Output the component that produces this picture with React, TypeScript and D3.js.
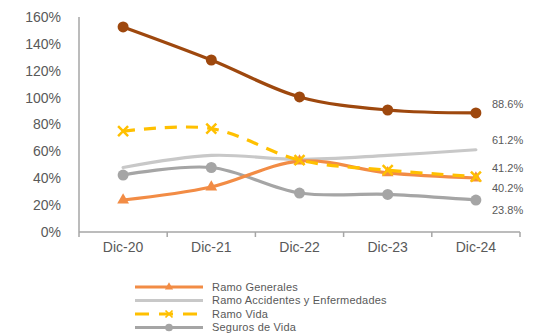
import React, { useEffect, useRef } from 'react';
import * as d3 from 'd3';

const categories = ['Dic-20', 'Dic-21', 'Dic-22', 'Dic-23', 'Dic-24'];
const yTicks = [0, 20, 40, 60, 80, 100, 120, 140, 160];

const ramoGenerales = [23.8, 33.5, 52.8, 44.0, 40.2];
const ramoAccidentes = [48.0, 57.0, 54.0, 57.0, 61.2];
const ramoVida = [75.0, 77.0, 53.5, 46.0, 41.2];
const segurosVida = [42.4, 48.0, 29.0, 28.0, 23.8];
const totalSeries = [152.6, 128.0, 100.5, 90.8, 88.6];

const series = [
  { name: 'Total', values: totalSeries, color: '#9E480E', marker: 'circle', dash: null },
  { name: 'Ramo Accidentes y Enfermedades', values: ramoAccidentes, color: '#C8C8C8', marker: 'none', dash: null },
  { name: 'Seguros de Vida', values: segurosVida, color: '#A5A5A5', marker: 'circle', dash: null },
  { name: 'Ramo Generales', values: ramoGenerales, color: '#F28C45', marker: 'triangle', dash: null },
  { name: 'Ramo Vida', values: ramoVida, color: '#FFC000', marker: 'x', dash: '12,9' },
];

const legendOrder = ['Ramo Generales', 'Ramo Accidentes y Enfermedades', 'Ramo Vida', 'Seguros de Vida'];

const App = () => {
  const svgRef = useRef<SVGSVGElement>(null);

  useEffect(() => {
    const svg = d3.select(svgRef.current);
    svg.selectAll('*').remove();

    const font = 'Arial, "Liberation Sans", sans-serif';
    const x = d3.scaleBand().domain(categories).range([79, 520]);
    const y = d3.scaleLinear().domain([0, 160]).range([232, 17]);
    const cx = (c: string) => (x(c) as number) + x.bandwidth() / 2;

    // Y axis
    svg.append('line')
      .attr('x1', 79).attr('x2', 79).attr('y1', y(160)).attr('y2', y(0))
      .attr('stroke', '#A6A6A6').attr('stroke-width', 1.5);
    svg.selectAll('.ytick').data(yTicks).enter().append('text')
      .attr('x', 61).attr('y', d => y(d)).attr('dy', '0.35em')
      .attr('text-anchor', 'end').style('font-family', font).style('font-size', '14px')
      .attr('fill', '#595959').text(d => `${d}%`);

    // X axis
    svg.append('line')
      .attr('x1', 79).attr('x2', 520).attr('y1', y(0)).attr('y2', y(0))
      .attr('stroke', '#A6A6A6').attr('stroke-width', 1.5);
    const edges = categories.map(c => x(c) as number).concat([520]);
    svg.selectAll('.xtick').data(edges).enter().append('line')
      .attr('x1', d => d).attr('x2', d => d).attr('y1', y(0)).attr('y2', y(0) + 5)
      .attr('stroke', '#A6A6A6').attr('stroke-width', 1.5);
    svg.selectAll('.xlabel').data(categories).enter().append('text')
      .attr('x', d => cx(d)).attr('y', 252).attr('text-anchor', 'middle')
      .style('font-family', font).style('font-size', '14px').attr('fill', '#595959')
      .text(d => d);

    const line = d3.line<number>()
      .x((_, i) => cx(categories[i]))
      .y(d => y(d))
      .curve(d3.curveCatmullRom.alpha(0.5));

    const drawMarker = (g: any, kind: string, px: number, py: number, color: string, k = 1) => {
      if (kind === 'circle') {
        g.append('circle').attr('cx', px).attr('cy', py).attr('r', 5.5 * k).attr('fill', color);
      } else if (kind === 'triangle') {
        g.append('path').attr('d', d3.symbol(d3.symbolTriangle, 60 * k * k)()).attr('transform', `translate(${px},${py})`)
          .attr('fill', color);
      } else if (kind === 'x') {
        const r = 5 * k;
        g.append('path').attr('d', `M${px - r},${py - r}L${px + r},${py + r}M${px - r},${py + r}L${px + r},${py - r}`)
          .attr('stroke', color).attr('stroke-width', 2.5 * k).attr('fill', 'none');
      }
    };

    series.forEach(s => {
      const g = svg.append('g');
      const p = g.append('path').attr('d', line(s.values))
        .attr('fill', 'none').attr('stroke', s.color).attr('stroke-width', 3.2)
        .attr('stroke-linecap', s.dash ? 'butt' : 'round');
      if (s.dash) p.attr('stroke-dasharray', s.dash);
      s.values.forEach((v, i) => drawMarker(g, s.marker, cx(categories[i]), y(v), s.color));
    });

    // End labels
    const endLabels = [
      { v: totalSeries[4], ly: 104 },
      { v: ramoAccidentes[4], ly: 140 },
      { v: ramoVida[4], ly: 168 },
      { v: ramoGenerales[4], ly: 188 },
      { v: segurosVida[4], ly: 210 },
    ];
    svg.selectAll('.endlabel').data(endLabels).enter().append('text')
      .attr('x', 492).attr('y', d => d.ly).attr('dy', '0.35em')
      .style('font-family', font).style('font-size', '11px').attr('fill', '#595959')
      .text(d => `${d.v.toFixed(1)}%`);

    // Legend
    legendOrder.forEach((name, i) => {
      const s = series.find(d => d.name === name)!;
      const ly = 287 + i * 13.5;
      const g = svg.append('g');
      const l = g.append('line').attr('x1', 135).attr('x2', 203).attr('y1', ly).attr('y2', ly)
        .attr('stroke', s.color).attr('stroke-width', 3);
      if (s.dash) l.attr('stroke-dasharray', '14,10');
      drawMarker(g, s.marker, 169, ly, s.color, 0.7);
      g.append('text').attr('x', 212).attr('y', ly).attr('dy', '0.35em')
        .style('font-family', font).style('font-size', '11px').attr('fill', '#595959')
        .style('letter-spacing', '0.2px')
        .text(name);
    });
  }, []);

  return <svg ref={svgRef} width={536} height={333} style={{ position: 'absolute', left: 0, top: 0, background: '#fff' }} />;
};

export default App;
